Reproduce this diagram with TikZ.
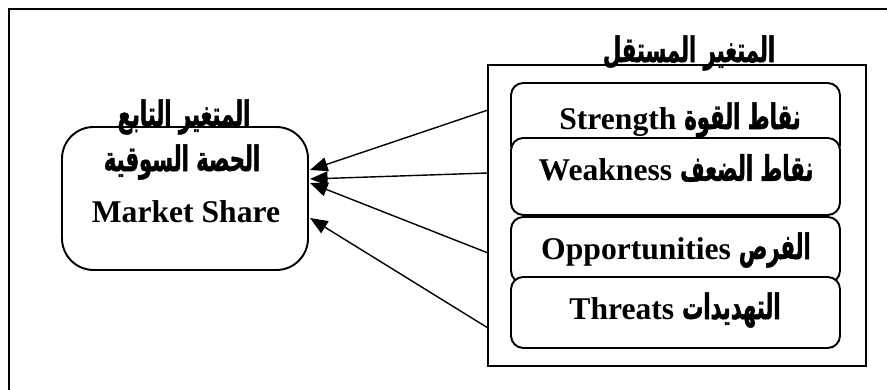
\documentclass[tikz,border=0pt]{standalone}
\usepackage{fontspec}
\setmainfont{Liberation Serif}
\newfontfamily\arabicfont[Script=Arabic, FakeStretch=0.6, BoldFeatures={FakeBold=1.2}]{DejaVu Sans}
\TeXXeTstate=1
\usetikzlibrary{arrows.meta}

\tikzset{
    rahmen/.style={draw, line width=1.1pt, minimum width=7.56cm, minimum height=6.02cm},
    faktor/.style={draw, fill=white, rounded corners=7pt, line width=1.1pt, minimum width=6.58cm},
    schrift/.style={font=\fontsize{18}{21}\selectfont\bfseries, inner sep=0pt},
    pfeil/.style={-{Triangle[length=10pt,width=8pt]}, line width=0.8pt}
}
\newcommand{\arabtext}[1]{{\arabicfont\fontsize{20}{21}\selectfont\bfseries\beginR #1\endR}}

\begin{document}
\begin{tikzpicture}
    \clip (0,0) rectangle (17.74,7.8);
    \draw[line width=1.3pt] (0.18,-0.5) -- (0.18,7.62) -- (18.5,7.62);
    % independent variables
    \path node[rahmen] (mustaqil) at (13.54,3.49) {}
        node[faktor, minimum height=1.48cm] (quwwa) at (13.51,5.4) {}
        node[faktor, minimum height=1.54cm] (daf) at (13.51,4.27) {}
        node[faktor, minimum height=1.32cm] (furas) at (13.51,2.8) {}
        node[faktor, minimum height=1.42cm] (tahdid) at (13.51,1.55) {};
    \path node[schrift] (tmustaqil) at (13.78,6.74) {\arabtext{المتغير المستقل}}
        node[schrift] (tquwwa) at (13.6,5.4) {Strength \arabtext{نقاط القوة}}
        node[schrift] (tdaf) at (13.52,4.44) {Weakness \arabtext{نقاط الضعف}}
        node[schrift] (tfuras) at (13.52,2.8) {Opportunities \arabtext{الفرص}}
        node[schrift] (ttahdid) at (13.5,1.6) {Threats \arabtext{التهديدات}};
    % dependent variable
    \path node[faktor, rounded corners=18pt, minimum width=4.92cm, minimum height=2.86cm] (tabi) at (3.7,3.83) {}
        node[schrift] (ttabi) at (3.68,5.46) {\arabtext{المتغير التابع}}
        node[schrift] (thissa) at (3.64,4.56) {\arabtext{الحصة السوقية}}
        node[schrift] (tmarket) at (3.72,3.56) {Market Share};
    \path coordinate (s1) at (9.76,5.6)
        coordinate (s2) at (9.76,4.34)
        coordinate (s3) at (9.76,2.74)
        coordinate (s4) at (9.76,1.24)
        coordinate (e1) at (6.2,4.4)
        coordinate (e2) at (6.2,4.22)
        coordinate (e3) at (6.2,4.14)
        coordinate (e4) at (6.2,3.44);
    \draw[pfeil] (s1) -- (e1);
    \draw[pfeil] (s2) -- (e2);
    \draw[pfeil] (s3) -- (e3);
    \draw[pfeil] (s4) -- (e4);
\end{tikzpicture}
\end{document}
